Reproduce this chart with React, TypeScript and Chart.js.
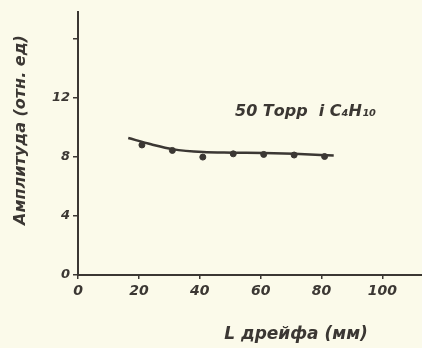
import React, { useEffect, useRef } from "react";
import { Chart, registerables } from "chart.js";

Chart.register(...registerables);

// Measured points: drift length (mm) vs amplitude (rel. units)
const driftLength = [21, 31, 41, 51, 61, 71, 81];
const amplitude = [8.8, 8.43, 7.98, 8.2, 8.16, 8.12, 8.02];

// Hand-drawn smooth curve through the data
const curveX = [16.5, 24, 31, 41, 51, 61, 71, 84];
const curveY = [9.27, 8.85, 8.52, 8.32, 8.28, 8.25, 8.2, 8.09];

const yTicks = [0, 4, 8, 12, 16];
const yTickLabels = ["0", "4", "8", "12", ""];
const xTicks = [0, 20, 40, 60, 80, 100];
const xTickLabels = ["0", "20", "40", "60", "80", "100"];

const yTitle = "Амплитуда (отн. ед)";
const xTitle = "L дрейфа (мм)";
const annotation = "50 Торр  i C₄H₁₀";

const INK = "#3b3733";
const BG = "#fbfaea";
const FONT = "'DejaVu Sans', sans-serif";

const textPlugin = {
  id: "handText",
  beforeDraw(chart: any) {
    const ctx = chart.ctx;
    ctx.save();
    ctx.fillStyle = BG;
    ctx.fillRect(0, 0, chart.width, chart.height);
    ctx.restore();
  },
  afterDraw(chart: any) {
    const ctx = chart.ctx;
    ctx.save();
    ctx.fillStyle = INK;
    ctx.textAlign = "center";
    ctx.textBaseline = "middle";
    // y title
    ctx.save();
    ctx.translate(21, 130);
    ctx.rotate(-Math.PI / 2);
    ctx.font = `italic bold 16px ${FONT}`;
    ctx.fillText(yTitle, 0, 0);
    ctx.restore();
    // x title
    ctx.font = `italic bold 17px ${FONT}`;
    ctx.fillText(xTitle, 296, 335);
    // annotation
    ctx.textAlign = "left";
    ctx.font = `italic bold 16px ${FONT}`;
    ctx.fillText(annotation, 235, 112);
    ctx.restore();
  },
};

export default function App() {
  const ref = useRef<HTMLCanvasElement>(null);
  useEffect(() => {
    if (!ref.current) return;
    const chart = new Chart(ref.current, {
      type: "scatter",
      data: {
        datasets: [
          {
            label: "curve",
            data: curveX.map((x, i) => ({ x, y: curveY[i] })),
            showLine: true,
            borderColor: INK,
            borderWidth: 2.5,
            pointRadius: 0,
            tension: 0.4,
            cubicInterpolationMode: "monotone",
          },
          {
            label: "points",
            data: driftLength.map((x, i) => ({ x, y: amplitude[i] })),
            showLine: false,
            backgroundColor: INK,
            borderColor: INK,
            pointRadius: 3,
          },
        ],
      },
      options: {
        responsive: false,
        animation: false,
        layout: { autoPadding: false, padding: { top: 12, right: 0, left: 0, bottom: 0 } },
        plugins: {
          legend: { display: false },
          tooltip: { enabled: false },
        },
        scales: {
          x: {
            type: "linear",
            min: 0,
            max: 113,
            afterFit: (s: any) => {
              s.height = 73;
              s.paddingRight = 0;
              s.paddingLeft = 0;
            },
            afterBuildTicks: (s: any) => {
              s.ticks = xTicks.map((v) => ({ value: v }));
            },
            border: { color: INK, width: 2 },
            grid: { display: true, drawOnChartArea: false, color: INK, tickLength: 4, lineWidth: 1.5 },
            ticks: {
              color: INK,
              font: { family: FONT, size: 14, style: "italic", weight: "bold" },
              padding: 4,
              callback: (v: any) => xTickLabels[xTicks.indexOf(Number(v))] ?? "",
            },
          },
          y: {
            type: "linear",
            min: 0,
            max: 17.8,
            afterFit: (s: any) => {
              s.width = 78;
              s.paddingTop = 0;
              s.paddingBottom = 0;
            },
            afterBuildTicks: (s: any) => {
              s.ticks = yTicks.map((v) => ({ value: v }));
            },
            border: { color: INK, width: 2 },
            grid: { display: true, drawOnChartArea: false, color: INK, tickLength: 5, lineWidth: 1.5 },
            ticks: {
              color: INK,
              font: { family: FONT, size: 13, style: "italic", weight: "bold" },
              padding: 3,
              callback: (v: any) => yTickLabels[yTicks.indexOf(Number(v))] ?? "",
            },
          },
        },
      },
      plugins: [textPlugin],
    } as any);
    return () => chart.destroy();
  }, []);
  return (
    <div style={{ position: "fixed", left: 0, top: 0, width: 422, height: 348, background: BG }}>
      <canvas ref={ref} width={422} height={348} />
    </div>
  );
}
